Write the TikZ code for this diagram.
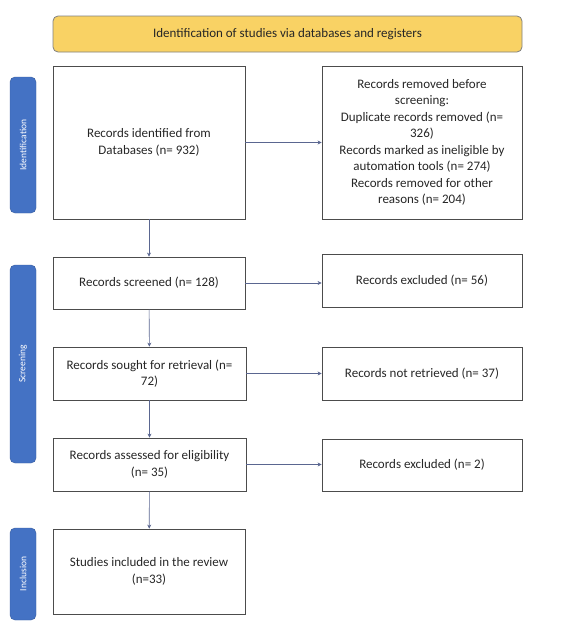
\documentclass[tikz,border=0pt]{standalone}
\usepackage{fontspec}
\setmainfont{Carlito}
\usetikzlibrary{arrows.meta}
\definecolor{phaseblue}{HTML}{4472C4}
\definecolor{headyellow}{HTML}{F9D264}
\definecolor{linegray}{HTML}{5A6690}
\begin{document}
\begin{tikzpicture}[
    x=1pt, y=-1pt,
    box/.style={rectangle, draw=black!70, line width=0.8pt, align=center, inner sep=3pt,
      font=\fontsize{13}{16.5}\selectfont, text=black!85},
    phase/.style={rectangle, rounded corners=5pt, fill=phaseblue, draw=phaseblue!80!black,
      minimum height=26pt, text=white, font=\fontsize{9.5}{10}\selectfont},
    arr/.style={-{Stealth[length=4pt,width=4pt]}, draw=linegray, line width=0.6pt}
  ]
    \useasboundingbox (0,0) rectangle (569,621);
    \node[box, rounded corners=5pt, fill=headyellow, draw=black!50, minimum width=469pt, minimum height=36pt] (head) at (287.5,34) {Identification of studies via databases and registers};
    % left column
    \node[box, minimum width=192pt, minimum height=153pt] (found) at (149,142.5) {Records identified from\\Databases (n= 932)};
    \node[box, minimum width=192pt, minimum height=52pt] (screened) at (149,283) {Records screened (n= 128)};
    \node[box, minimum width=193pt, minimum height=53pt] (sought) at (149.5,373.5) {Records sought for retrieval (n=\\72)};
    \node[box, minimum width=193pt, minimum height=53pt] (assessed) at (149.5,464.5) {Records assessed for eligibility\\(n= 35)};
    \node[box, minimum width=192pt, minimum height=85pt] (included) at (149,571.5) {Studies included in the review\\(n=33)};
    % right column
    \node[box, minimum width=200pt, minimum height=153pt] (removed) at (422,142.5) {Records removed before\\screening:\\Duplicate records removed (n=\\326)\\Records marked as ineligible by\\automation tools (n= 274)\\Records removed for other\\reasons (n= 204)};
    \node[box, minimum width=200pt, minimum height=53pt] (excl) at (422,280.5) {Records excluded (n= 56)};
    \node[box, minimum width=200pt, minimum height=53pt] (notret) at (422,373.5) {Records not retrieved (n= 37)};
    \node[box, minimum width=200pt, minimum height=52pt] (exclb) at (422,465) {Records excluded (n= 2)};
    % phase labels
    \node[phase, minimum width=136pt, rotate=90] (pid) at (23,145) {Identification};
    \node[phase, minimum width=198pt, rotate=90] (pscr) at (23,364) {Screening};
    \node[phase, minimum width=92pt, rotate=90] (pinc) at (23,574) {Inclusion};
    % connectors
    \draw[arr] (found) -- (screened);
    \draw[arr] (screened) -- (sought);
    \draw[arr] (sought) -- (assessed);
    \draw[arr] (assessed) -- (included);
    \draw[arr] (found.east) -- (removed.west);
    \draw[arr] (screened.east) -- (excl.west |- screened.east);
    \draw[arr] (sought.east) -- (notret.west);
    \draw[arr] (assessed.east) -- (exclb.west |- assessed.east);
\end{tikzpicture}
\end{document}
